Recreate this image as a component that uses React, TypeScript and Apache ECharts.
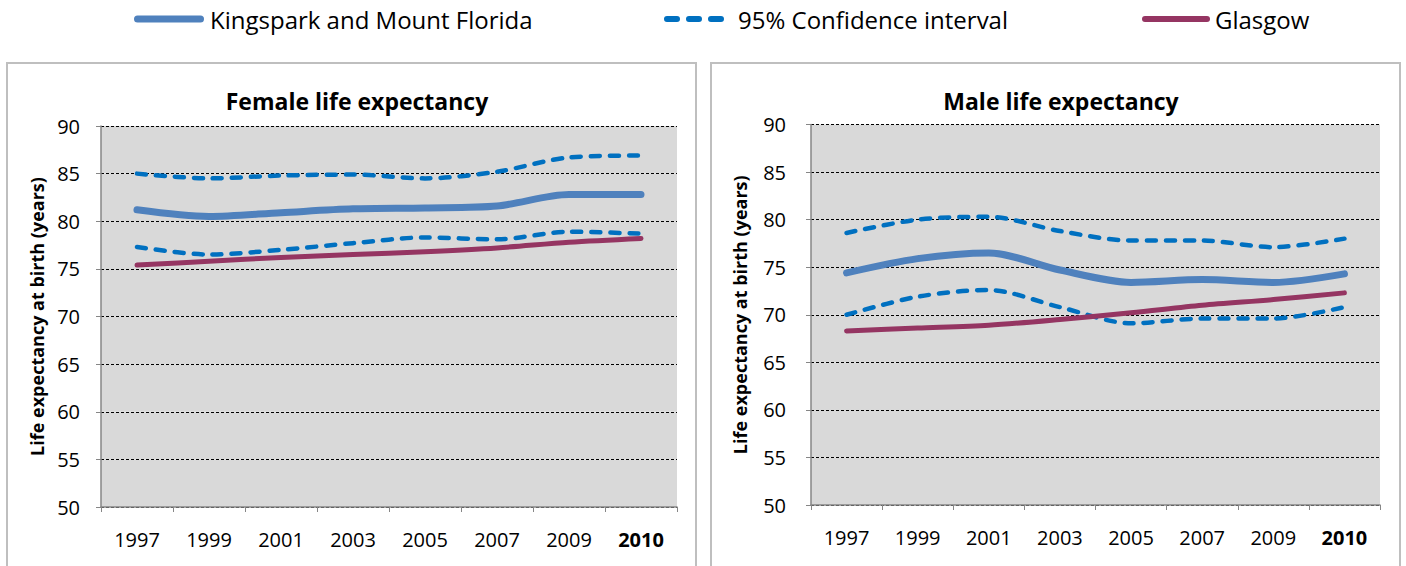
import React, { useEffect, useRef } from "react";
import * as echarts from "echarts";

const years = ["1997", "1999", "2001", "2003", "2005", "2007", "2009", "2010"];
const yTicks = [50, 55, 60, 65, 70, 75, 80, 85, 90];

const femaleArea = [81.2, 80.5, 80.9, 81.3, 81.4, 81.6, 82.8, 82.8];
const femaleUpper = [85.0, 84.5, 84.8, 84.9, 84.5, 85.2, 86.7, 86.9];
const femaleLower = [77.3, 76.5, 77.0, 77.7, 78.3, 78.1, 78.9, 78.7];
const femaleGlasgow = [75.4, 75.8, 76.2, 76.5, 76.8, 77.2, 77.8, 78.2];

const maleArea = [74.4, 75.9, 76.5, 74.7, 73.4, 73.7, 73.4, 74.3];
const maleUpper = [78.6, 80.0, 80.3, 78.8, 77.8, 77.8, 77.1, 78.0];
const maleLower = [70.0, 71.9, 72.6, 70.8, 69.1, 69.6, 69.6, 70.8];
const maleGlasgow = [68.3, 68.6, 68.9, 69.5, 70.2, 71.0, 71.6, 72.3];

const seriesNames = ["Kingspark and Mount Florida", "95% Confidence interval", "Glasgow"];
const panelTitles = ["Female life expectancy", "Male life expectancy"];
const yAxisName = "Life expectancy at birth (years)";

const FONT = "'Open Sans', Lato, sans-serif";
const C_AREA = "#4F81BD";
const C_CI = "#0070C0";
const C_GLA = "#953562";

export default function App() {
  const ref = useRef<HTMLDivElement>(null);
  useEffect(() => {
    if (!ref.current) return;
    const chart = echarts.init(ref.current, null, { renderer: "svg" });
    const grids = [
      { left: 101, top: 126, width: 576, height: 381 },
      { left: 811, top: 124.5, width: 569, height: 380.5 },
    ];
    const mkX = (i: number) => ({
      type: "category",
      gridIndex: i,
      data: years,
      boundaryGap: true,
      axisLine: { lineStyle: { color: "#868686", width: 1.5 } },
      axisTick: { show: true, length: 5, lineStyle: { color: "#868686" } },
      axisLabel: {
        interval: 0,
        margin: 22,
        fontFamily: FONT,
        fontSize: 20,
        color: "#000",
        formatter: (v: string) => (v === "2010" ? "{b|" + v + "}" : v),
        rich: { b: { fontWeight: "bold", fontFamily: FONT, fontSize: 20, color: "#000" } },
      },
      splitLine: { show: false },
    });
    const mkY = (i: number) => ({
      type: "value",
      gridIndex: i,
      min: 50,
      max: 90,
      interval: 5,
      name: yAxisName,
      nameLocation: "middle",
      nameGap: i === 0 ? 55 : 62,
      nameTextStyle: { fontFamily: FONT, fontWeight: "bold", fontSize: 18, color: "#000" },
      axisLine: { show: true, lineStyle: { color: "#868686", width: 1.5 } },
      axisTick: { show: true, length: 5, lineStyle: { color: "#868686" } },
      axisLabel: {
        margin: i === 0 ? 21 : 25,
        fontFamily: FONT,
        fontSize: 20,
        color: "#000",
        formatter: (v: number) => (yTicks.includes(v) ? String(v) : ""),
      },
      splitLine: { show: true, lineStyle: { color: "#000", width: 1, type: [3, 2] } },
      splitArea: { show: true, areaStyle: { color: ["#D9D9D9", "#D9D9D9"] } },
    });
    const line = (name: string, data: number[], i: number, color: string, width: number, dashed: boolean) => ({
      type: "line",
      name,
      data,
      xAxisIndex: i,
      yAxisIndex: i,
      smooth: 0.3,
      showSymbol: false,
      symbol: "none",
      z: dashed ? 3 : 4,
      lineStyle: { color, width, type: dashed ? [9, 10] : "solid", cap: "round", join: "round" },
    });
    const panels = [
      [femaleArea, femaleUpper, femaleLower, femaleGlasgow],
      [maleArea, maleUpper, maleLower, maleGlasgow],
    ];
    const series: any[] = [];
    panels.forEach((p, i) => {
      series.push(line(seriesNames[2], p[3], i, C_GLA, 5, false));
      series.push(line(seriesNames[1], p[1], i, C_CI, 4.5, true));
      series.push(line(seriesNames[1], p[2], i, C_CI, 4.5, true));
      series.push(line(seriesNames[0], p[0], i, C_AREA, 7, false));
    });
    const legendText = (x: number, text: string) => ({
      type: "text",
      x,
      y: 19,
      style: { text, fontFamily: FONT, fontSize: 24, fill: "#000", verticalAlign: "middle", textAlign: "left" },
    });
    const titleStyle = { fontFamily: FONT, fontWeight: "bold", fontSize: 23, color: "#000" };
    chart.setOption({
      animation: false,
      backgroundColor: "#fff",
      title: [
        { text: panelTitles[0], left: 352, top: 84, textAlign: "center", textStyle: titleStyle },
        { text: panelTitles[1], left: 1056, top: 84, textAlign: "center", textStyle: titleStyle },
      ],
      grid: grids,
      xAxis: [mkX(0), mkX(1)],
      yAxis: [mkY(0), mkY(1)],
      series,
      graphic: [
        { type: "rect", shape: { x: 7, y: 63, width: 689, height: 520 }, style: { fill: "none", stroke: "#BFBFBF", lineWidth: 2 }, z: -10 },
        { type: "rect", shape: { x: 711, y: 63, width: 689, height: 520 }, style: { fill: "none", stroke: "#BFBFBF", lineWidth: 2 }, z: -10 },
        { type: "line", shape: { x1: 137.5, y1: 19, x2: 200.5, y2: 19 }, style: { stroke: C_AREA, lineWidth: 7, lineCap: "round" } },
        legendText(210, seriesNames[0]),
        { type: "line", shape: { x1: 667, y1: 19, x2: 724, y2: 19 }, style: { stroke: C_CI, lineWidth: 6, lineCap: "round", lineDash: [10, 12] } },
        legendText(738, seriesNames[1]),
        { type: "line", shape: { x1: 1145, y1: 19, x2: 1207, y2: 19 }, style: { stroke: C_GLA, lineWidth: 6, lineCap: "round" } },
        legendText(1215, seriesNames[2]),
      ],
    });
    return () => chart.dispose();
  }, []);
  return <div ref={ref} style={{ position: "fixed", left: 0, top: 0, width: 1406, height: 566 }} />;
}
